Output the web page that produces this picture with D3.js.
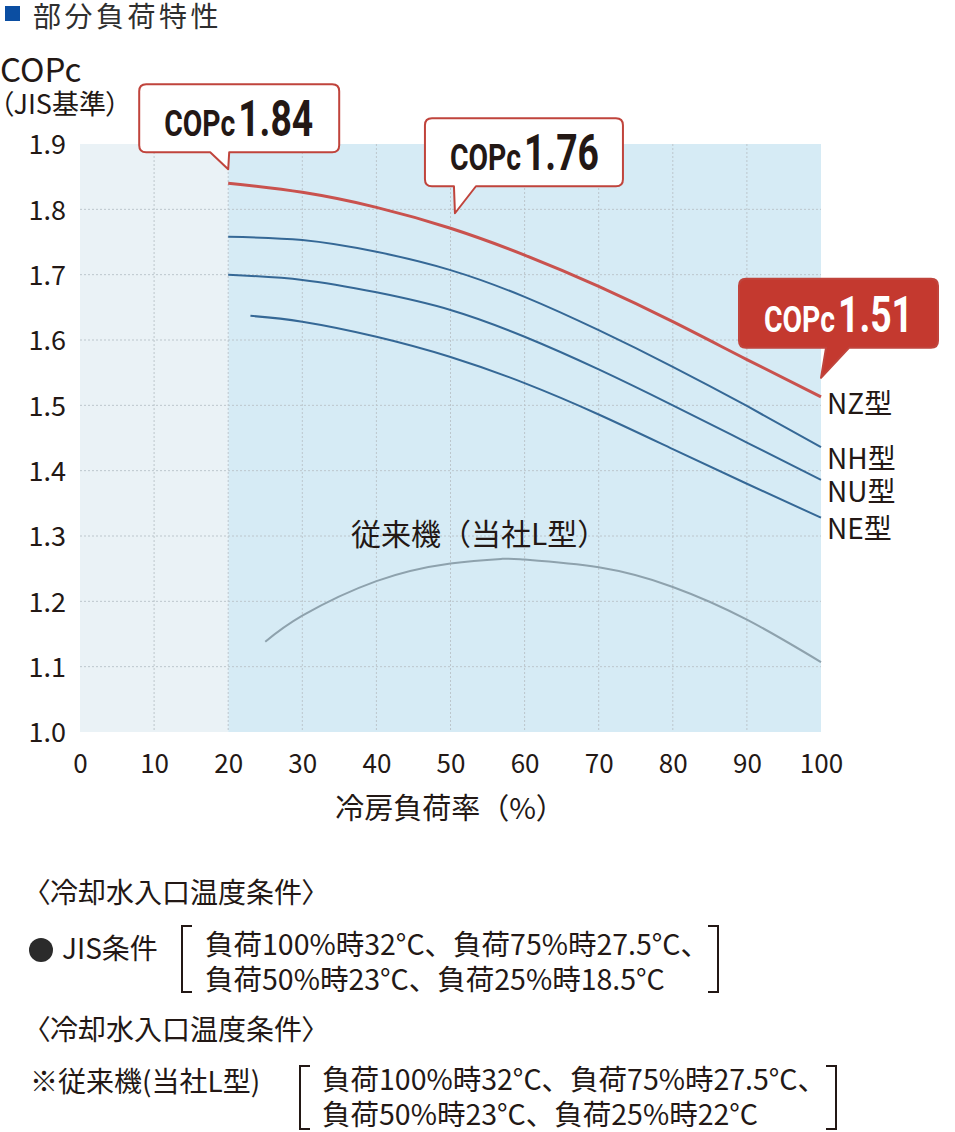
<!DOCTYPE html>
<html>
<head>
<meta charset="utf-8">
<script src="https://cdn.jsdelivr.net/npm/d3@7"></script>
<style>
  body { margin: 0; background: #fff; }
  svg text { font-family: "Noto Sans CJK JP", "Noto Sans", sans-serif; fill: #231815; }
  .palt { font-feature-settings: "palt"; }
</style>
</head>
<body>
<svg id="chart"></svg>
<script>
// 部分負荷特性 chart

const xTicks = [0, 10, 20, 30, 40, 50, 60, 70, 80, 90, 100];
const yTicks = [1.0, 1.1, 1.2, 1.3, 1.4, 1.5, 1.6, 1.7, 1.8, 1.9];

const loadMain = [20, 30, 40, 50, 60, 70, 80, 90, 100];
const copNZ = [1.840, 1.826, 1.803, 1.771, 1.730, 1.682, 1.628, 1.570, 1.513];
const copNH = [1.758, 1.753, 1.735, 1.707, 1.666, 1.615, 1.559, 1.499, 1.436];
const copNU = [1.700, 1.692, 1.673, 1.646, 1.605, 1.555, 1.500, 1.443, 1.386];
const loadNE = [23, 30, 40, 50, 60, 70, 80, 90, 100];
const copNE = [1.637, 1.628, 1.605, 1.574, 1.534, 1.486, 1.433, 1.380, 1.328];
const loadL = [25, 30, 40, 50, 57, 60, 70, 80, 90, 100];
const copL = [1.138, 1.178, 1.231, 1.258, 1.265, 1.264, 1.252, 1.222, 1.172, 1.107];

const seriesNames = ['NZ型', 'NH型', 'NU型', 'NE型'];
const calloutLoad = [20, 50.6, 100];
const calloutCop = [1.84, 1.768, 1.513];
const calloutText = ['1.84', '1.76', '1.51'];

const svg = d3.select('#chart').attr('width', 955).attr('height', 1132);

const x = d3.scaleLinear().domain([0, 100]).range([80, 821]);
const y = d3.scaleLinear().domain([1.0, 1.9]).range([732, 144]);

// title
svg.append('rect').attr('x', 5).attr('y', 6).attr('width', 15).attr('height', 15).attr('fill', '#0b4ea2');
svg.append('text').attr('x', 33).attr('y', 27).attr('font-size', 28).attr('letter-spacing', 3.5)
    .style('fill', '#2f2f2f').text('部分負荷特性');

// backgrounds
svg.append('rect').attr('x', x(0)).attr('y', y(1.9)).attr('width', x(20) - x(0)).attr('height', y(1.0) - y(1.9))
    .attr('fill', '#eaf2f6');
svg.append('rect').attr('x', x(20)).attr('y', y(1.9)).attr('width', x(100) - x(20)).attr('height', y(1.0) - y(1.9))
    .attr('fill', '#d6ebf5');

// grid
svg.append('g').selectAll('line').data(xTicks.slice(1, -1)).enter().append('line')
    .attr('x1', d => x(d)).attr('x2', d => x(d)).attr('y1', y(1.9)).attr('y2', y(1.0))
    .attr('stroke', '#bcc6cc').attr('stroke-dasharray', '2,2');
svg.append('g').selectAll('line').data(yTicks.slice(1, -1)).enter().append('line')
    .attr('x1', x(0)).attr('x2', x(100)).attr('y1', d => y(d)).attr('y2', d => y(d))
    .attr('stroke', '#bcc6cc').attr('stroke-dasharray', '2,2');

// axes labels
const xAxis = d3.axisBottom(x).tickValues(xTicks).tickSize(0).tickPadding(0).tickFormat(d3.format('d'));
const gx = svg.append('g').attr('transform', `translate(0,${y(1.0) + 23})`).call(xAxis);
gx.select('.domain').remove();
gx.selectAll('text').attr('font-size', 26).attr('dy', '0.71em').style('fill', '#231815')
    .style('font-family', '"Noto Sans CJK JP", sans-serif');

const yAxis = d3.axisLeft(y).tickValues(yTicks).tickSize(0).tickPadding(0).tickFormat(d3.format('.1f'));
const gy = svg.append('g').attr('transform', `translate(66,0)`).call(yAxis);
gy.select('.domain').remove();
gy.selectAll('text').attr('font-size', 27).attr('dy', '0.36em').style('fill', '#231815')
    .style('font-family', '"Noto Sans CJK JP", sans-serif');

svg.append('text').attr('x', 0).attr('y', 82).attr('font-size', 33).text('COPc');
svg.append('text').attr('x', 0).attr('y', 114).attr('font-size', 27).attr('class', 'palt').text('（JIS基準）');
svg.append('text').attr('x', 450).attr('y', 819).attr('font-size', 29).attr('text-anchor', 'middle').text('冷房負荷率（%）');

// curves
const line = d3.line().x(d => x(d[0])).y(d => y(d[1])).curve(d3.curveNatural);
const zip = (a, b) => a.map((v, i) => [v, b[i]]);

svg.append('path').datum(zip(loadL, copL)).attr('d', line)
    .attr('fill', 'none').attr('stroke', '#8ea2ad').attr('stroke-width', 2);
[[loadMain, copNH], [loadMain, copNU], [loadNE, copNE]].forEach(s => {
    svg.append('path').datum(zip(s[0], s[1])).attr('d', line)
        .attr('fill', 'none').attr('stroke', '#356896').attr('stroke-width', 2);
});
svg.append('path').datum(zip(loadMain, copNZ)).attr('d', line)
    .attr('fill', 'none').attr('stroke', '#c9524e').attr('stroke-width', 3);

// series labels
const labelCop = [copNZ[8], copNH[8], copNU[8], copNE[8]];
const labelDy = [17, 22, 22, 21];
seriesNames.forEach((n, i) => {
    svg.append('text').attr('x', 827).attr('y', y(labelCop[i]) + labelDy[i]).attr('font-size', 28).text(n);
});
svg.append('text').attr('x', 351).attr('y', 545).attr('font-size', 30).text('従来機（当社L型）');

// callouts
const boxes = [
    { dx0: -89, dx1: 111, dy0: -85, dy1: -17, t0: -18, t1: 1, fill: '#fff', ink: '#231815', lift: 14 },
    { dx0: -30, dx1: 168, dy0: -95, dy1: -27, t0: -1, t1: 21, fill: '#fff', ink: '#231815', lift: 17 },
    { dx0: -82, dx1: 117, dy0: -99, dy1: -30, t0: 5, t1: 28, fill: '#c4392f', ink: '#fff', lift: 19 }
];
boxes.forEach((b, i) => {
    const tx = x(calloutLoad[i]), ty = y(calloutCop[i]) - b.lift;
    const x0 = tx + b.dx0, x1 = tx + b.dx1, y0 = ty + b.dy0, y1 = ty + b.dy1, r = 7;
    const p = d3.path();
    p.moveTo(x0 + r, y0);
    p.lineTo(x1 - r, y0);
    p.quadraticCurveTo(x1, y0, x1, y0 + r);
    p.lineTo(x1, y1 - r);
    p.quadraticCurveTo(x1, y1, x1 - r, y1);
    p.lineTo(tx + b.t1, y1);
    p.lineTo(tx, ty);
    p.lineTo(tx + b.t0, y1);
    p.lineTo(x0 + r, y1);
    p.quadraticCurveTo(x0, y1, x0, y1 - r);
    p.lineTo(x0, y0 + r);
    p.quadraticCurveTo(x0, y0, x0 + r, y0);
    p.closePath();
    svg.append('path').attr('d', p.toString()).attr('fill', b.fill)
        .attr('stroke', '#c0443c').attr('stroke-width', 2).attr('stroke-linejoin', 'round');
    svg.append('text').attr('x', x0 + 25).attr('y', y1 - 16)
        .attr('textLength', 71).attr('lengthAdjust', 'spacingAndGlyphs')
        .style('font-family', 'Roboto, sans-serif').style('font-weight', 'bold').style('fill', b.ink)
        .attr('font-size', 37).text('COPc');
    svg.append('text').attr('x', x0 + 99).attr('y', y1 - 16)
        .attr('textLength', 75).attr('lengthAdjust', 'spacingAndGlyphs')
        .style('font-family', 'Roboto, sans-serif').style('font-weight', 'bold').style('fill', b.ink)
        .attr('font-size', 50).text(calloutText[i]);
});

// notes
const notes = svg.append('g');
notes.append('text').attr('x', 36).attr('y', 903).attr('font-size', 28).attr('class', 'palt').text('〈冷却水入口温度条件〉');
notes.append('circle').attr('cx', 41).attr('cy', 950).attr('r', 12).attr('fill', '#2b2b2b');
notes.append('text').attr('x', 62).attr('y', 959).attr('font-size', 28).text('JIS条件');
notes.append('text').attr('x', 205).attr('y', 955).attr('font-size', 28.5).text('負荷100%時32°C、負荷75%時27.5°C、');
notes.append('text').attr('x', 205).attr('y', 990).attr('font-size', 28.5).text('負荷50%時23°C、負荷25%時18.5°C');
notes.append('text').attr('x', 36).attr('y', 1040).attr('font-size', 28).attr('class', 'palt').text('〈冷却水入口温度条件〉');
notes.append('text').attr('x', 30).attr('y', 1092).attr('font-size', 28).text('※従来機(当社L型)');
notes.append('text').attr('x', 322).attr('y', 1090).attr('font-size', 28.5).text('負荷100%時32°C、負荷75%時27.5°C、');
notes.append('text').attr('x', 322).attr('y', 1125).attr('font-size', 28.5).text('負荷50%時23°C、負荷25%時22°C');

function bracket(xl, xr, yt, yb) {
    notes.append('path').attr('d', `M${xl + 10},${yt} H${xl} V${yb} H${xl + 10}`)
        .attr('fill', 'none').attr('stroke', '#231815').attr('stroke-width', 2);
    notes.append('path').attr('d', `M${xr - 10},${yt} H${xr} V${yb} H${xr - 10}`)
        .attr('fill', 'none').attr('stroke', '#231815').attr('stroke-width', 2);
}
bracket(182, 718, 926, 992);
bracket(300, 836, 1066, 1129);
</script>
</body>
</html>
